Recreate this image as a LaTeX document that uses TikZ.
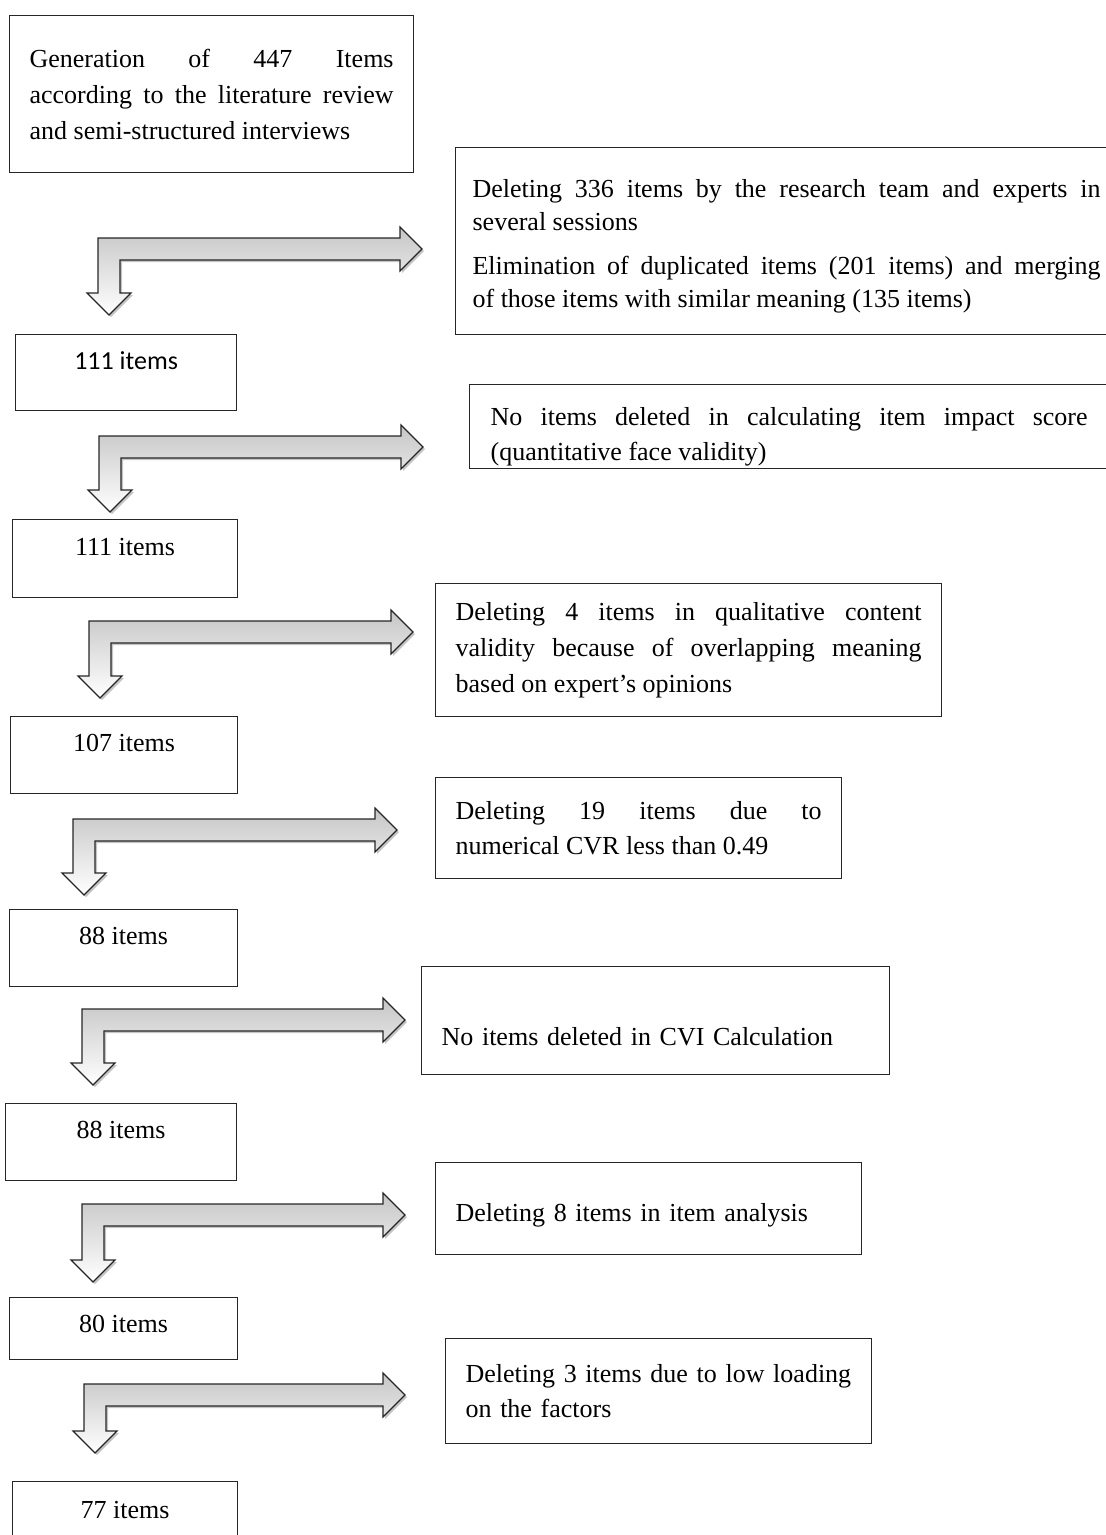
\documentclass[tikz,border=0pt]{standalone}
\usepackage{fontspec}
\setmainfont{Liberation Serif}
\newfontfamily\calibri{Carlito}
\usetikzlibrary{shadows}

\tikzset{
  countbox/.style={draw=black!85, line width=1.2pt, anchor=north west, inner sep=0pt, text depth=24pt},
  stepbox/.style={draw=black!85, line width=1.2pt, anchor=north west, inner xsep=20pt, inner ysep=0pt, align=justify},
  bent/.style={draw=black!85, line width=1.2pt, top color=gray!45, bottom color=white,
    drop shadow={shadow xshift=2pt, shadow yshift=-2pt, fill=black!45}}
}

% corner x, corner y, tip x, tip y
\newcommand{\bentarrow}[4]{%
  \path[bent] (#1,#2) -- ({#3-22},#2) -- ({#3-22},{#2-11}) -- (#3,{#2+11})
    -- ({#3-22},{#2+33}) -- ({#3-22},{#2+22}) -- ({#1+22},{#2+22})
    -- ({#1+22},{#4-22}) -- ({#1+33},{#4-22}) -- ({#1+11},#4)
    -- ({#1-11},{#4-22}) -- (#1,{#4-22}) -- cycle;}

\begin{document}
\begin{tikzpicture}[x=1pt,y=-1pt,font=\fontsize{26}{35}\selectfont]
  \useasboundingbox (0,0) rectangle (1106,1535);

  % bent arrows
  \bentarrow{98}{238}{422}{315}
  \bentarrow{99}{436}{423}{512}
  \bentarrow{89}{621}{413}{698}
  \bentarrow{73}{819}{397}{895}
  \bentarrow{82}{1009}{405}{1085}
  \bentarrow{82}{1204}{405}{1282}
  \bentarrow{84}{1384}{405}{1453}

  % item counts
  \node[stepbox, text width=364pt, minimum height=157pt, font=\fontsize{26}{36}\selectfont] (gen) at (9,15)
    {Generation of 447 Items\linebreak according to the literature review\linebreak and semi-structured interviews};
  \node[countbox, minimum width=221pt, minimum height=76pt] (n111a) at (15,334) {\calibri 111 items};
  \node[countbox, minimum width=225pt, minimum height=78pt] (n111b) at (12,519) {111 items};
  \node[countbox, minimum width=227pt, minimum height=77pt] (n107) at (10,716) {107 items};
  \node[countbox, minimum width=228pt, minimum height=77pt] (n88a) at (9,909) {88 items};
  \node[countbox, minimum width=231pt, minimum height=77pt] (n88b) at (5,1103) {88 items};
  \node[countbox, minimum width=228pt, minimum height=62pt, text depth=10pt] (n80) at (9,1297) {80 items};
  \node[countbox, minimum width=225pt, minimum height=80pt] (n77) at (12,1481) {77 items};

  % deletion steps
  \node[stepbox, inner xsep=17pt, text width=628pt, minimum height=187pt, text height=28pt, font=\fontsize{26}{33}\selectfont] (d336) at (455,147)
    {Deleting 336 items by the research team and experts in\linebreak several sessions\\[11pt]
     Elimination of duplicated items (201 items) and merging\linebreak of those items with similar meaning (135 items)};
  \node[stepbox, inner xsep=21pt, text width=597pt, minimum height=84pt, text height=38pt] (d0a) at (469,384)
    {No items deleted in calculating item impact score\linebreak (quantitative face validity)};
  \node[stepbox, text width=466pt, minimum height=133pt, font=\fontsize{26}{36}\selectfont] (d4) at (435,583)
    {Deleting 4 items in qualitative content\linebreak validity because of overlapping meaning\linebreak based on expert’s opinions};
  \node[stepbox, text width=366pt, minimum height=101pt] (d19) at (435,777)
    {Deleting 19 items due to\linebreak numerical CVR less than 0.49};
  \node[stepbox, align=left, text width=428pt, minimum height=108pt, text height=50pt, text depth=0pt] (d0b) at (421,966)
    {No items deleted in CVI Calculation};
  \node[stepbox, align=left, text width=386pt, minimum height=92pt, text height=30pt, text depth=5pt] (d8) at (435,1162)
    {Deleting 8 items in item analysis};
  \node[stepbox, align=left, text width=386pt, minimum height=105pt] (d3) at (445,1338)
    {Deleting 3 items due to low loading\\on the factors};
\end{tikzpicture}
\end{document}
